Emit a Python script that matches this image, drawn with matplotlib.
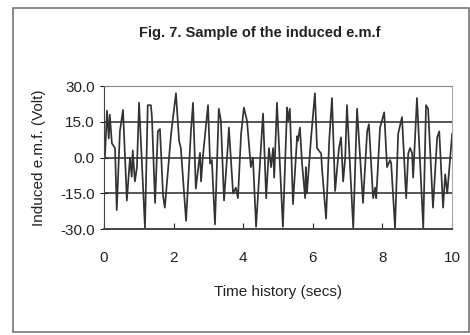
import matplotlib.pyplot as plt
from matplotlib.patches import Rectangle

plt.rcParams['font.family'] = ['Liberation Sans', 'DejaVu Sans']

# time (s) and induced emf (V)
time_s = [0.03, 0.09, 0.14, 0.17, 0.23, 0.32, 0.37, 0.46, 0.55, 0.66,
          0.75, 0.80, 0.83, 0.89, 0.95, 1.01, 1.18, 1.26, 1.35, 1.38,
          1.47, 1.55, 1.61, 1.70, 1.75, 1.93, 2.07, 2.16, 2.21, 2.36,
          2.50, 2.56, 2.64, 2.76, 2.79, 2.84, 2.99, 3.05, 3.10, 3.19,
          3.30, 3.36, 3.45, 3.56, 3.59, 3.71, 3.79, 3.85, 3.94, 4.02,
          4.11, 4.22, 4.28, 4.37, 4.57, 4.66, 4.74, 4.80, 4.86, 4.89,
          4.97, 5.14, 5.26, 5.29, 5.34, 5.43, 5.55, 5.57, 5.63, 5.69,
          5.78, 5.80, 5.83, 5.95, 6.06, 6.12, 6.24, 6.26, 6.38, 6.47,
          6.55, 6.64, 6.75, 6.81, 6.87, 6.93, 6.98, 7.07, 7.16, 7.27,
          7.44, 7.56, 7.61, 7.73, 7.79, 7.82, 7.93, 8.05, 8.13, 8.22,
          8.25, 8.36, 8.45, 8.56, 8.68, 8.74, 8.79, 8.85, 8.88, 8.99,
          9.17, 9.25, 9.31, 9.45, 9.57, 9.63, 9.74, 9.80, 9.86, 10.0]
emf_v = [0, 19.7, 8, 18, 6, 4, -22, 11, 20, -18,
         0, -8, 3, -10, -4, 23, -29.5, 22, 22, 17,
         -19, 11, 12, -16, -21, 10, 27, 7, 4, -26.5,
         11, 23, -13, 2, -10, 0, 22, -2.5, -1, -28,
         20.5, 15.5, -18, 5, 12.6, -15, -12.6, -17, 10, 21,
         15.5, -4, 0, -29, 18.5, -17, 4, -4, 4, -8.4,
         23, -29, 21, 15.5, 20.5, -19.5, 9, 7, 12.6, -2.5,
         -17, -4, -15, 8.5, 27, 4, 1.7, -4, -25.6, 7,
         25, -14, 4, 8.5, -10, 0, 22, -4, -29.5, 20.5,
         -19, 11, 14, -17, -12.6, -17, 12.6, 19, -4, -1,
         -2.5, -29.5, 10, 17, -17, 1.7, 4, 2, -8.4, 25,
         -29.5, 22, 20.5, -21, 8.5, 11, -21, -7, -15, 10]

x_ticks = [0, 2, 4, 6, 8, 10]
y_ticks = [-30, -15, 0, 15, 30]
y_labels = ["-30.0", "-15.0", "0.0", "15.0", "30.0"]

fig = plt.figure(figsize=(4.7, 3.35), dpi=100)
ax = fig.add_axes([0.221, 0.316, 0.741, 0.427])

# outer frame around the whole figure
fig.patches.append(Rectangle((0.027, 0.01), 0.97, 0.965, transform=fig.transFigure,
                             fill=False, edgecolor="#777777", linewidth=1.2))

for y in [-15, 0, 15]:
    ax.axhline(y, color="#555555", linewidth=1.4, zorder=1)

ax.plot(time_s, emf_v, color="#333333", linewidth=1.25, zorder=2)

ax.set_xlim(0, 10)
ax.set_ylim(-30, 30)
ax.set_xticks(x_ticks)
ax.set_yticks(y_ticks)
ax.set_yticklabels(y_labels)

ax.spines["top"].set_linestyle((0, (2, 1)))
ax.spines["top"].set_color("#888888")
ax.spines["top"].set_linewidth(0.8)
ax.spines["right"].set_linestyle((0, (1, 1)))
ax.spines["right"].set_color("#aaaaaa")
ax.spines["right"].set_linewidth(0.8)
ax.spines["left"].set_color("#444444")
ax.spines["bottom"].set_color("#444444")
ax.spines["bottom"].set_linewidth(1.4)

ax.tick_params(axis="y", direction="inout", length=6, labelsize=11, colors="#222222")
ax.tick_params(axis="x", direction="in", length=4, labelsize=11, colors="#222222", pad=16)

ax.set_xlabel("Time history (secs)", fontsize=11, color="#222222", labelpad=14)
ax.set_ylabel("Induced e.m.f. (Volt)", fontsize=11, color="#222222", labelpad=10)

fig.text(0.553, 0.9, "Fig. 7. Sample of the induced e.m.f", fontsize=10.5,
         fontweight="bold", ha="center", va="center", color="#222222")

plt.savefig("out.png", dpi=100)
